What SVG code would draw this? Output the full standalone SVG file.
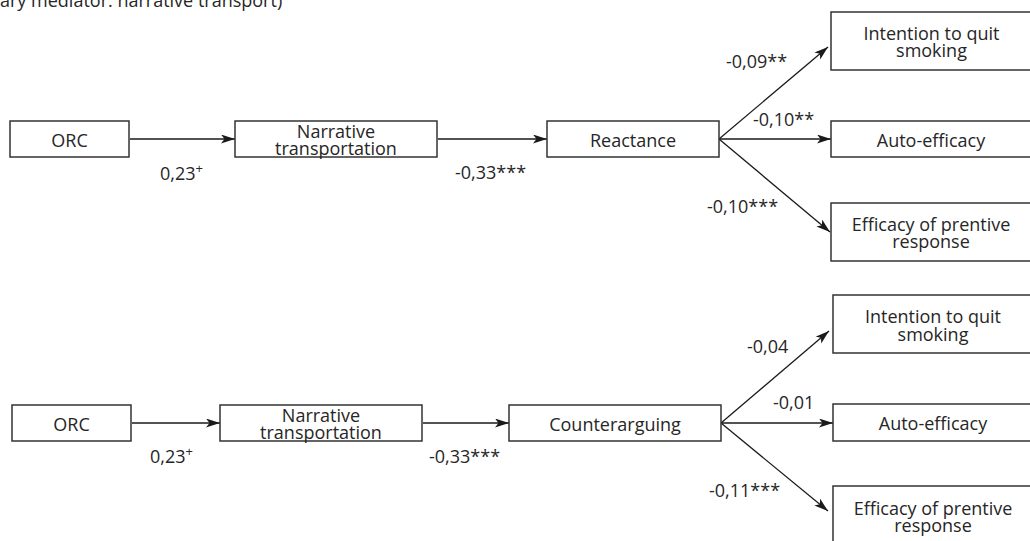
<svg xmlns="http://www.w3.org/2000/svg" width="1030" height="541" viewBox="0 0 1030 541">
<style>
  .box { fill: #ffffff; stroke: #333333; stroke-width: 1.5; }
  .t { font-family: "Open Sans", "Liberation Sans", sans-serif; font-size: 18px; fill: #262626; }
  .c { text-anchor: middle; }
  .sup { font-size: 13px; }
  .edge { stroke: #1a1a1a; stroke-width: 1.3; fill: none; marker-end: url(#ah); }
</style>
<defs>
  <marker id="ah" markerUnits="userSpaceOnUse" markerWidth="15" markerHeight="10" refX="14" refY="4.5" orient="auto">
    <path d="M0,0 L14,4.5 L0,9 L3.5,4.5 z" fill="#1a1a1a"/>
  </marker>
</defs>
<rect width="1030" height="541" fill="#ffffff"/>
<text class="t" x="0" y="7">ary mediator: narrative transport)</text>

<g id="connectors">
  <line class="edge" x1="130" y1="139" x2="235" y2="139"/>
  <line class="edge" x1="438" y1="139" x2="547" y2="139"/>
  <line class="edge" x1="719" y1="139" x2="828" y2="47"/>
  <line class="edge" x1="719" y1="139" x2="831" y2="139"/>
  <line class="edge" x1="719" y1="139" x2="830" y2="232"/>
  <line class="edge" x1="132" y1="423" x2="220" y2="423"/>
  <line class="edge" x1="423" y1="423" x2="509" y2="423"/>
  <line class="edge" x1="721" y1="423" x2="829" y2="331"/>
  <line class="edge" x1="721" y1="423" x2="833" y2="423"/>
  <line class="edge" x1="721" y1="423" x2="828" y2="511"/>
</g>

<g id="edge-labels">
  <text class="t" x="160" y="180">0,23<tspan class="sup" dy="-7">+</tspan></text>
  <text class="t" x="455" y="179">-0,33***</text>
  <text class="t" x="726" y="68">-0,09**</text>
  <text class="t" x="753" y="126">-0,10**</text>
  <text class="t" x="707" y="213">-0,10***</text>
  <text class="t" x="150" y="463">0,23<tspan class="sup" dy="-7">+</tspan></text>
  <text class="t" x="429" y="463">-0,33***</text>
  <text class="t" x="747" y="353">-0,04</text>
  <text class="t" x="773" y="409">-0,01</text>
  <text class="t" x="709" y="497">-0,11***</text>
</g>

<g id="orc1"><rect class="box" x="10" y="121" width="119" height="36"/><text class="t c" x="69.5" y="147">ORC</text></g>
<g id="narr1"><rect class="box" x="235" y="121" width="202" height="36"/><text class="t c" x="336" y="137.5">Narrative</text><text class="t c" x="336" y="154.5">transportation</text></g>
<g id="react"><rect class="box" x="547" y="121" width="172" height="36"/><text class="t c" x="633" y="147">Reactance</text></g>
<g id="int1"><rect class="box" x="831" y="12" width="220" height="58"/><text class="t c" x="931.5" y="39.5">Intention to quit</text><text class="t c" x="931.5" y="57">smoking</text></g>
<g id="auto1"><rect class="box" x="831" y="121" width="220" height="36"/><text class="t c" x="931" y="147">Auto-efficacy</text></g>
<g id="eff1"><rect class="box" x="831" y="203" width="220" height="58"/><text class="t c" x="931" y="231">Efficacy of prentive</text><text class="t c" x="931" y="248">response</text></g>

<g id="orc2"><rect class="box" x="12" y="405" width="119" height="36"/><text class="t c" x="71.5" y="431">ORC</text></g>
<g id="narr2"><rect class="box" x="220" y="405" width="202" height="36"/><text class="t c" x="321" y="421.5">Narrative</text><text class="t c" x="321" y="438.5">transportation</text></g>
<g id="counter"><rect class="box" x="509" y="405" width="212" height="36"/><text class="t c" x="615" y="431">Counterarguing</text></g>
<g id="int2"><rect class="box" x="833" y="295" width="220" height="58"/><text class="t c" x="933" y="323">Intention to quit</text><text class="t c" x="933" y="341">smoking</text></g>
<g id="auto2"><rect class="box" x="833" y="404" width="220" height="37"/><text class="t c" x="933" y="430">Auto-efficacy</text></g>
<g id="eff2"><rect class="box" x="833" y="486" width="220" height="70"/><text class="t c" x="933" y="515">Efficacy of prentive</text><text class="t c" x="933" y="531.5">response</text></g>
</svg>
